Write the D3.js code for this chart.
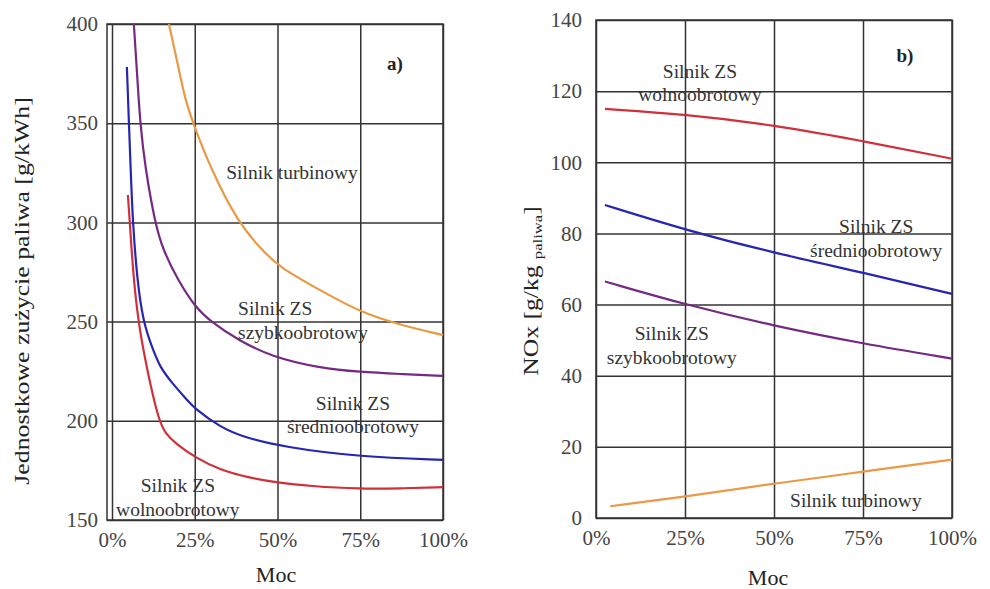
<!DOCTYPE html>
<html>
<head>
<meta charset="utf-8">
<script src="https://cdn.jsdelivr.net/npm/d3@7"></script>
<style>
body { margin: 0; background: #fff; }
svg text { font-family: "Liberation Serif", "Tinos", "Times New Roman", "DejaVu Serif", serif; }
</style>
</head>
<body>
<div id="chart"></div>
<script>
// Moc [%] na osi X
var xTicks = [0, 25, 50, 75, 100];

// a) jednostkowe zużycie paliwa [g/kWh]
var yTicksA = [150, 200, 250, 300, 350, 400];
var wolnoA = [[4.8,313.8],[5.4,299.7],[6.3,276],[7.9,249.8],[10.6,225.6],[14.2,199.4],[16.3,193.4],[19,188.8],[25.1,181.5],[32.6,175.2],[41.7,171.2],[49.8,168.9],[59.8,167.1],[74.9,165.6],[87,165.9],[100,166.6]];
var srednioA = [[4.5,378.3],[5.1,350.6],[5.7,323.9],[6.3,299.7],[7.6,271],[9.4,249.8],[12.4,235.7],[14.5,227.1],[18.1,219.1],[22.7,210.5],[25.1,206],[32.6,196.9],[39.6,191.8],[51.7,186.8],[74.9,181.8],[100,180.3]];
var szybkoA = [[6.6,400],[7.6,374.3],[8.5,350.1],[10,327.9],[13,299.7],[15.4,286.1],[19.9,271],[25.1,257.4],[29.6,250.3],[38.1,240.7],[48.3,232.2],[62.8,226.6],[74.9,224.6],[87,223.6],[100,222.6]];
var turbinaA = [[17.2,400],[19.6,381.9],[22.1,361.7],[24.5,350.1],[29.6,327.9],[38.1,299.7],[45.3,286.1],[50.5,277.5],[62.8,265.9],[74.9,254.8],[87,248.3],[100,243.2]];

// b) NOx [g/kg paliwa]
var yTicksB = [0, 20, 40, 60, 80, 100, 120, 140];
var wolnoB = [[2.5,115],[25,113.5],[50,110.5],[75,106],[100,101]];
var srednioB = [[2.5,88],[25,81],[50,74.5],[75,69],[100,63]];
var szybkoB = [[2.5,66.5],[25,60],[50,54],[75,49],[100,44.8]];
var turbinaB = [[4,3.3],[25,6],[50,9.7],[75,13],[100,16.4]];

// kolory serii
var colors = { wolno: "#d0303a", srednio: "#2626b2", szybko: "#742a82", turbina: "#e99a45" };

// opisy krzywych [x %, y w jednostkach osi]
var labelsA = [
	{ lines: ["Silnik turbinowy"], x: 54.4, y: 322, anchor: "middle" },
	{ lines: ["Silnik ZS", "szybkoobrotowy"], x: 38.1, y: 253.3, anchor: "start" },
	{ lines: ["Silnik ZS", "średnioobrotowy"], x: 72.8, y: 205.5, anchor: "middle" },
	{ lines: ["Silnik ZS", "wolnoobrotowy"], x: 19.9, y: 164.1, anchor: "middle" }
];
var labelsB = [
	{ lines: ["Silnik ZS", "wolnoobrotowy"], x: 29.2, y: 123.7, anchor: "middle" },
	{ lines: ["Silnik ZS", "średnioobrotowy"], x: 78.7, y: 80.1, anchor: "middle" },
	{ lines: ["Silnik ZS", "szybkoobrotowy"], x: 21.3, y: 50.0, anchor: "middle" },
	{ lines: ["Silnik turbinowy"], x: 73, y: 3.1, anchor: "middle" }
];

var serif = "'Liberation Serif', 'Tinos', 'Times New Roman', 'DejaVu Serif', serif";

var svg = d3.select("#chart").append("svg")
	.attr("width", 990)
	.attr("height", 589)
	.attr("font-family", serif);

/**
 * rysuje jeden wykres
 */
function draw_panel(p) {
	var x = d3.scaleLinear().domain([0, 100]).range([p.x0, p.right]);
	var y = d3.scaleLinear().domain(p.yDomain).range([p.bottom, p.top]);
	var g = svg.append("g");

	// siatka
	g.append("g")
		.attr("transform", "translate(0," + p.bottom + ")")
		.call(d3.axisBottom(x).tickValues(xTicks).tickSize(-(p.bottom - p.top)).tickSizeOuter(0).tickPadding(12)
			.tickFormat(function(d) { return d + "%"; }))
		.call(style_axis);

	g.append("g")
		.attr("transform", "translate(" + p.left + ",0)")
		.call(d3.axisLeft(y).tickValues(p.yTicks).tickSize(-(p.right - p.left)).tickSizeOuter(0).tickPadding(p.pad))
		.call(style_axis);

	g.append("rect")
		.attr("x", p.left).attr("y", p.top)
		.attr("width", p.right - p.left).attr("height", p.bottom - p.top)
		.style("fill", "none").style("stroke", "#333").style("stroke-width", 1.5);

	// krzywe (wygładzone, punkty)
	var line = d3.line()
		.x(function(d) { return x(d[0]); })
		.y(function(d) { return y(d[1]); })
		.curve(d3.curveBasis);

	p.series.forEach(function(s) {
		g.append("path")
			.datum(s.data)
			.attr("d", line)
			.style("fill", "none")
			.style("stroke", colors[s.key])
			.style("stroke-width", 2.2);
	});

	// opisy
	p.labels.forEach(function(l) {
		var t = g.append("text")
			.attr("x", x(l.x))
			.attr("y", y(l.y))
			.style("text-anchor", l.anchor)
			.style("font-family", serif)
			.style("font-size", "19.5px")
			.style("fill", "#333");
		l.lines.forEach(function(s, i) {
			t.append("tspan").attr("x", x(l.x)).attr("dy", i == 0 ? 0 : 23.5).text(s);
		});
	});

	g.append("text")
		.attr("x", x(p.tag[0])).attr("y", y(p.tag[1]))
		.style("text-anchor", "middle")
		.style("font-family", serif)
		.style("font-size", "19px")
		.style("font-weight", "bold")
		.style("fill", "#222")
		.text(p.tag[2]);

	// tytuł osi X
	g.append("text")
		.attr("x", p.mocX)
		.attr("y", p.mocY)
		.style("text-anchor", "middle")
		.style("font-family", serif)
		.style("font-size", "22px")
		.style("fill", "#222")
		.text("Moc");

	return g;
}

function style_axis(sel) {
	sel.attr("font-family", serif);
	sel.select(".domain").remove();
	sel.selectAll("line").style("stroke", "#333").style("stroke-width", 1.5);
	sel.selectAll("text")
		.style("font-size", "21px")
		.style("fill", "#444")
		.style("font-family", serif);
}

draw_panel({
	left: 107, x0: 112, right: 443, top: 24, bottom: 520,
	yDomain: [150, 400], yTicks: yTicksA, pad: 9,
	series: [
		{ key: "turbina", data: turbinaA },
		{ key: "szybko", data: szybkoA },
		{ key: "srednio", data: srednioA },
		{ key: "wolno", data: wolnoA }
	],
	labels: labelsA,
	tag: [85.5, 376.8, "a)"],
	mocX: 276, mocY: 582
});

draw_panel({
	left: 596, x0: 596, right: 952, top: 20, bottom: 518,
	yDomain: [0, 140], yTicks: yTicksB, pad: 14,
	series: [
		{ key: "wolno", data: wolnoB },
		{ key: "srednio", data: srednioB },
		{ key: "szybko", data: szybkoB },
		{ key: "turbina", data: turbinaB }
	],
	labels: labelsB,
	tag: [86.8, 128.2, "b)"],
	mocX: 768, mocY: 585
});

// tytuły osi Y (oryginał jest rozciągnięty w poziomie, stąd skala wzdłuż tekstu)
svg.append("text")
	.attr("transform", "translate(29,291) rotate(-90) scale(1.29,1)")
	.style("text-anchor", "middle")
	.style("font-family", serif)
	.style("font-size", "20px")
	.style("fill", "#222")
	.text("Jednostkowe zużycie paliwa [g/kWh]");

var ty = svg.append("text")
	.attr("transform", "translate(538,291) rotate(-90) scale(1.28,1)")
	.style("text-anchor", "middle")
	.style("font-family", serif)
	.style("font-size", "20px")
	.style("fill", "#222");
ty.append("tspan").text("NOx [g/kg ");
ty.append("tspan").attr("dy", 4).style("font-size", "13px").text("paliwa");
ty.append("tspan").attr("dy", -4).text("]");
</script>
</body>
</html>
